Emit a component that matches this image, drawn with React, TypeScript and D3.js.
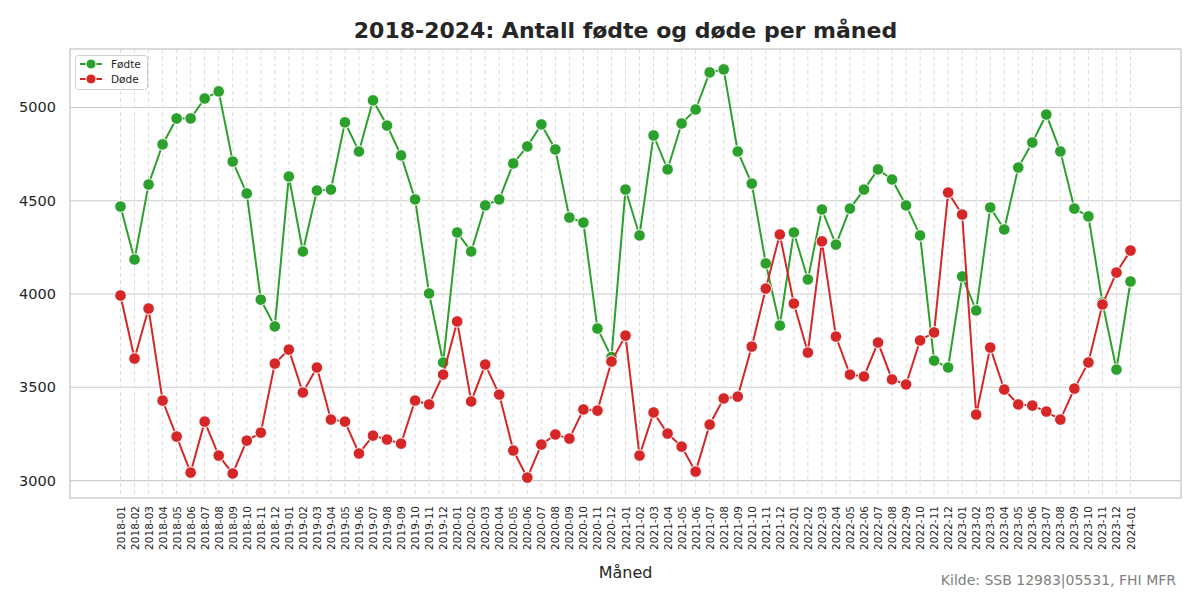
import React from "react";
import * as d3 from "d3";

const months: string[] = [];
for (let y = 2018; y <= 2024; y++) {
  for (let m = 1; m <= 12; m++) {
    if (y === 2024 && m > 1) break;
    months.push(`${y}-${String(m).padStart(2, "0")}`);
  }
}

const fodte = [
  4469, 4185, 4587, 4802, 4941, 4941, 5048, 5086, 4710, 4539, 3970, 3826,
  4630, 4228, 4555, 4560, 4920, 4764, 5038, 4903, 4743, 4507, 4003, 3633,
  4330, 4228, 4475, 4507, 4700, 4791, 4909, 4775, 4410, 4383, 3815, 3662,
  4560, 4314, 4850, 4668, 4914, 4989, 5188, 5204, 4764, 4592, 4164, 3831,
  4330, 4078, 4453, 4265, 4458, 4560, 4668, 4614, 4475, 4314, 3643, 3606,
  4094, 3912, 4464, 4346, 4678, 4812, 4962, 4764, 4458, 4416, 3954, 3595,
  4067,
];

const dode = [
  3992, 3654, 3922, 3429, 3236, 3043, 3316, 3134, 3038, 3214, 3257, 3627,
  3702, 3472, 3606, 3327, 3316, 3145, 3241, 3220, 3198, 3429, 3408, 3568,
  3853, 3424, 3622, 3461, 3161, 3016, 3193, 3247, 3225, 3381, 3375, 3638,
  3777, 3134, 3365, 3252, 3182, 3048, 3300, 3440, 3450, 3718, 4029, 4319,
  3949, 3686, 4282, 3772, 3568, 3558, 3740, 3542, 3515, 3751, 3794, 4544,
  4426, 3354, 3713, 3488, 3408, 3402, 3370, 3327, 3493, 3633, 3944, 4115,
  4233,
];

const yTicks = [3000, 3500, 4000, 4500, 5000];

const series = [
  { name: "Fødte", values: fodte, color: "#2ca02c" },
  { name: "Døde", values: dode, color: "#d62728" },
];

const FONT = "DejaVu Sans, sans-serif";

export default function App() {
  const left = 70, right = 1181, top = 49, bottom = 498;
  const n = months.length;
  const pad = (n - 1) * 0.05;
  const x = d3.scaleLinear().domain([-pad, n - 1 + pad]).range([left, right]);
  const all = [...fodte, ...dode];
  const mn = d3.min(all)!, mx = d3.max(all)!;
  const yp = (mx - mn) * 0.05;
  const y = d3.scaleLinear().domain([mn - yp, mx + yp]).range([bottom, top]);

  const line = d3
    .line<number>()
    .x((_, i) => x(i))
    .y((d) => y(d));

  return (
    <svg
      width={1200}
      height={600}
      style={{ position: "fixed", top: 0, left: 0, background: "#fff" }}
      fontFamily={FONT}
    >
      <rect x={0} y={0} width={1200} height={600} fill="#fff" />
      {yTicks.map((t) => (
        <line key={t} x1={left} x2={right} y1={y(t)} y2={y(t)} stroke="#cccccc" strokeWidth={1.1} />
      ))}
      {months.map((m, i) => (
        <line
          key={m}
          x1={x(i)}
          x2={x(i)}
          y1={top}
          y2={bottom}
          stroke="#dddddd"
          strokeWidth={1}
          strokeDasharray="4,3"
        />
      ))}
      <rect x={left} y={top} width={right - left} height={bottom - top} fill="none" stroke="#cccccc" strokeWidth={1.4} />

      {series.map((s) => (
        <g key={s.name}>
          <path d={line(s.values)!} fill="none" stroke={s.color} strokeWidth={2} />
          {s.values.map((v, i) => (
            <circle key={i} cx={x(i)} cy={y(v)} r={5.8} fill={s.color} stroke="#fff" strokeWidth={1} />
          ))}
        </g>
      ))}

      {yTicks.map((t) => (
        <text key={t} x={56} y={y(t)} textAnchor="end" dominantBaseline="central" fontSize={14.5} fill="#262626">
          {t}
        </text>
      ))}
      {months.map((m, i) => (
        <text
          key={m}
          transform={`translate(${x(i)},506) rotate(-90)`}
          textAnchor="end"
          dominantBaseline="central"
          fontSize={10.5}
          fill="#262626"
        >
          {m}
        </text>
      ))}

      <text x={625.5} y={38} textAnchor="middle" fontSize={22} fontWeight="bold" fill="#262626">
        2018-2024: Antall fødte og døde per måned
      </text>
      <text x={625.5} y={578} textAnchor="middle" fontSize={16} fill="#262626">
        Måned
      </text>
      <text x={1176} y={585} textAnchor="end" fontSize={14} fill="#808080">
        Kilde: SSB 12983|05531, FHI MFR
      </text>

      <rect x={75.5} y={55.5} width={72} height={34} rx={3} fill="#fff" fillOpacity={0.8} stroke="#d0d0d0" />
      {series.map((s, i) => {
        const ly = 64 + i * 15;
        return (
          <g key={s.name}>
            <line x1={80} x2={102} y1={ly} y2={ly} stroke={s.color} strokeWidth={2} />
            <circle cx={91} cy={ly} r={5} fill={s.color} stroke="#fff" strokeWidth={1} />
            <text x={111} y={ly} dominantBaseline="central" fontSize={10.5} fill="#262626">
              {s.name}
            </text>
          </g>
        );
      })}
    </svg>
  );
}
